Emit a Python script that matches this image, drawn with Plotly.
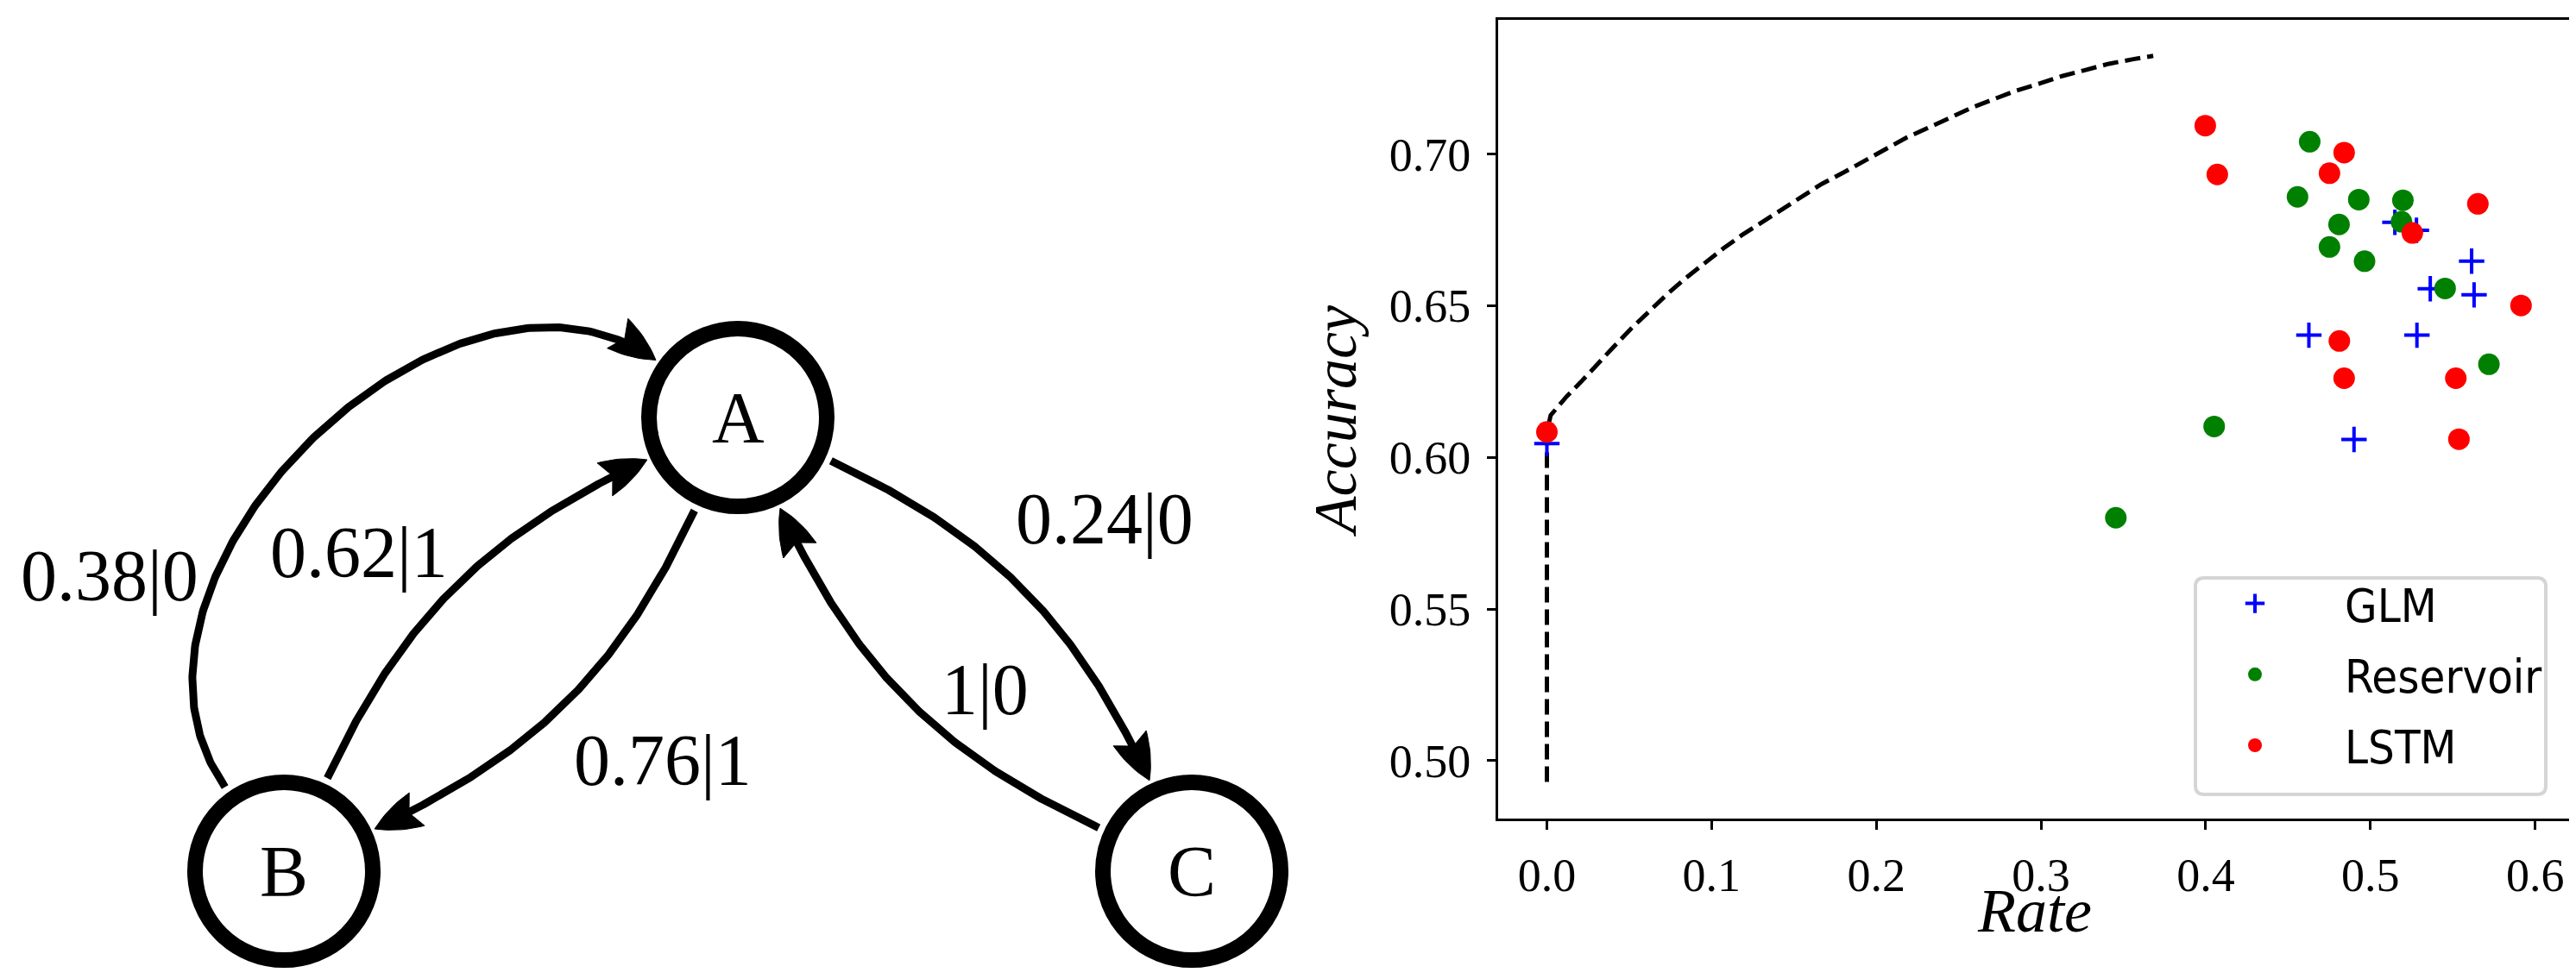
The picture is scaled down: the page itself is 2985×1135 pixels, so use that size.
import numpy as np
import plotly.graph_objects as go

W, H = 2985, 1135

# ---------------- scatter panel data ----------------
glm_rate = [0.0, 0.5148, 0.5279, 0.5614, 0.5363, 0.5629, 0.4626, 0.5282, 0.4900]
glm_acc = [0.6046, 0.6775, 0.6749, 0.6647, 0.6556, 0.6536, 0.6403, 0.6403, 0.6059]

res_rate = [0.4631, 0.4557, 0.4929, 0.5197, 0.4809, 0.5188, 0.4751, 0.4964,
            0.5453, 0.5719, 0.4051, 0.3454]
res_acc = [0.7041, 0.6859, 0.6850, 0.6848, 0.6768, 0.6777, 0.6694, 0.6647,
           0.6557, 0.6307, 0.6102, 0.5801]

lstm_rate = [0.0, 0.3997, 0.4070, 0.4840, 0.4751, 0.5652, 0.5254, 0.5914,
             0.4811, 0.4840, 0.5518, 0.5537]
lstm_acc = [0.6084, 0.7094, 0.6933, 0.7005, 0.6937, 0.6836, 0.6740, 0.6501,
            0.6384, 0.6261, 0.6261, 0.6060]

bound_rate = [0.0, 0.0, 0.0023, 0.0120, 0.0205, 0.0291, 0.0401, 0.0510, 0.0620,
              0.0730, 0.0840, 0.0949, 0.1071, 0.1181, 0.1303, 0.1425, 0.1547,
              0.1669, 0.1803, 0.1925, 0.2059, 0.2181, 0.2315, 0.2449, 0.2583,
              0.2717, 0.2852, 0.2998, 0.3132, 0.3266, 0.3412, 0.3559, 0.3681]
bound_acc = [0.4930, 0.6084, 0.6139, 0.6201, 0.6248, 0.6300, 0.6362, 0.6424,
             0.6481, 0.6538, 0.6590, 0.6637, 0.6689, 0.6732, 0.6774, 0.6817,
             0.6860, 0.6902, 0.6940, 0.6978, 0.7016, 0.7054, 0.7087, 0.7121,
             0.7154, 0.7182, 0.7210, 0.7234, 0.7258, 0.7277, 0.7298, 0.7313,
             0.7324]

x_ticks = [0.0, 0.1, 0.2, 0.3, 0.4, 0.5, 0.6]
x_ticklabels = ["0.0", "0.1", "0.2", "0.3", "0.4", "0.5", "0.6"]
y_ticks = [0.50, 0.55, 0.60, 0.65, 0.70]
y_ticklabels = ["0.50", "0.55", "0.60", "0.65", "0.70"]

# ---------------- state diagram data ----------------
node_names = ["A", "B", "C"]
node_cx = [847, 321, 1373]
node_cy = [476, 1002, 1002]
edge_src = ["B", "B", "A", "A", "C"]
edge_dst = ["A", "A", "B", "C", "A"]
edge_bend = [80, 20, 20, 20, 20]
edge_text = ["0.38|0", "0.62|1", "0.76|1", "0.24|0", "1|0"]
edge_text_x = [119, 408, 760, 1272, 1133]
edge_text_y = [659, 632, 873, 593, 791]

# ---------------- styling constants ----------------
SERIF = "Liberation Serif, Times New Roman, serif"
SANS = "Liberation Sans Narrow, DejaVu Sans Condensed, DejaVu Sans, sans-serif"
NODE_LW = 18
NODE_R = 112 - NODE_LW / 2
EDGE_LW = 9
ANCHOR_OUT = 119
ANCHOR_IN = 116
ARROW_L = 54
ARROW_W = 21
ARROW_NOTCH = 10
edge_looseness = [1.06, 1.0, 1.0, 1.0, 1.0]

fig = go.Figure()

# ---------------- diagram (left) ----------------
idx = {n: i for i, n in enumerate(node_names)}
for s, d, b, lo in zip(edge_src, edge_dst, edge_bend, edge_looseness):
    x1, y1 = node_cx[idx[s]], node_cy[idx[s]]
    x2, y2 = node_cx[idx[d]], node_cy[idx[d]]
    chord = np.degrees(np.arctan2(-(y2 - y1), x2 - x1))
    a_out = np.radians(chord + b)
    a_in = np.radians(chord + 180 - b)
    P0 = np.array([x1 + ANCHOR_OUT * np.cos(a_out), y1 - ANCHOR_OUT * np.sin(a_out)])
    P3 = np.array([x2 + ANCHOR_IN * np.cos(a_in), y2 - ANCHOR_IN * np.sin(a_in)])
    c = lo * 0.3915 * np.linalg.norm(P3 - P0)
    P1 = P0 + c * np.array([np.cos(a_out), -np.sin(a_out)])
    P2 = P3 + c * np.array([np.cos(a_in), -np.sin(a_in)])
    t = np.linspace(0, 1, 300)[:, None]
    pts = ((1 - t) ** 3) * P0 + 3 * ((1 - t) ** 2) * t * P1 + 3 * (1 - t) * (t ** 2) * P2 + (t ** 3) * P3
    keep = np.linalg.norm(pts - P3, axis=1) > (ARROW_L - ARROW_NOTCH - 3)
    pl = pts[keep]
    fig.add_trace(go.Scatter(x=pl[:, 0], y=pl[:, 1], mode="lines",
                             line=dict(color="black", width=EDGE_LW),
                             xaxis="x2", yaxis="y2", showlegend=False, hoverinfo="skip"))
    u = (P3 - P2) / np.linalg.norm(P3 - P2)
    n = np.array([-u[1], u[0]])
    base = P3 - ARROW_L * u
    cl = base + ARROW_W * n
    cr = base - ARROW_W * n
    notch = P3 - (ARROW_L - ARROW_NOTCH) * u
    ss = np.linspace(0, 1, 12)[:, None]
    ctl_l = P3 - 0.45 * ARROW_L * u + 0.75 * ARROW_W * n
    ctl_r = P3 - 0.45 * ARROW_L * u - 0.75 * ARROW_W * n
    side_l = ((1 - ss) ** 2) * P3 + 2 * (1 - ss) * ss * ctl_l + (ss ** 2) * cl
    sr = ss[::-1]
    side_r = ((1 - sr) ** 2) * P3 + 2 * (1 - sr) * sr * ctl_r + (sr ** 2) * cr
    poly = np.vstack([side_l, notch[None, :], side_r])
    fig.add_trace(go.Scatter(x=poly[:, 0], y=poly[:, 1], mode="lines", fill="toself",
                             fillcolor="black", line=dict(color="black", width=1),
                             xaxis="x2", yaxis="y2", showlegend=False, hoverinfo="skip"))

shapes = []
for nm, cx, cy in zip(node_names, node_cx, node_cy):
    shapes.append(dict(type="circle", xref="x2", yref="y2",
                       x0=cx - NODE_R, x1=cx + NODE_R, y0=cy - NODE_R, y1=cy + NODE_R,
                       line=dict(color="black", width=NODE_LW), fillcolor="white", layer="above"))

annotations = []
for nm, cx, cy in zip(node_names, node_cx, node_cy):
    annotations.append(dict(x=cx, y=cy, xref="x2", yref="y2", text=nm, showarrow=False,
                            font=dict(family=SERIF, size=84, color="black"),
                            xanchor="center", yanchor="middle"))
for txt, tx, ty in zip(edge_text, edge_text_x, edge_text_y):
    annotations.append(dict(x=tx, y=ty, xref="x2", yref="y2", text=txt, showarrow=False,
                            font=dict(family=SERIF, size=84, color="black"),
                            xanchor="center", yanchor="middle"))

# x-axis title of the scatter panel
annotations.append(dict(x=(1728 + 2970) / 2 / W, y=1 - 1048 / H, xref="paper", yref="paper",
                        text="<i>Rate</i>", showarrow=False, xanchor="center", yanchor="middle",
                        font=dict(family=SERIF, size=72, color="black")))

# ---------------- scatter (right) ----------------
fig.add_trace(go.Scatter(x=bound_rate, y=bound_acc, mode="lines",
                         line=dict(color="black", width=5, dash="18px,8px"),
                         showlegend=False, hoverinfo="skip", xaxis="x", yaxis="y"))
fig.add_trace(go.Scatter(x=glm_rate, y=glm_acc, mode="markers", name="GLM",
                         legendgroup="g1",
                         marker=dict(symbol="cross-thin", size=21, color="blue",
                                     line=dict(color="blue", width=4)),
                         xaxis="x", yaxis="y"))
fig.add_trace(go.Scatter(x=res_rate, y=res_acc, mode="markers", name="Reservoir",
                         legendgroup="g2",
                         marker=dict(symbol="circle", size=25, color="green", line=dict(width=0)),
                         xaxis="x", yaxis="y"))
fig.add_trace(go.Scatter(x=lstm_rate, y=lstm_acc, mode="markers", name="LSTM",
                         legendgroup="g3",
                         marker=dict(symbol="circle", size=25, color="red", line=dict(width=0)),
                         xaxis="x", yaxis="y"))

# rounded legend frame (drawn in paper coords)
lx0, lx1, ly0, ly1, rr = 2536 / W, 2942 / W, 1 - 913 / H, 1 - 662 / H, 10
rx, ry = rr / W, rr / H
path = (f"M {lx0 + rx},{ly0} L {lx1 - rx},{ly0} Q {lx1},{ly0} {lx1},{ly0 + ry} "
        f"L {lx1},{ly1 - ry} Q {lx1},{ly1} {lx1 - rx},{ly1} L {lx0 + rx},{ly1} "
        f"Q {lx0},{ly1} {lx0},{ly1 - ry} L {lx0},{ly0 + ry} Q {lx0},{ly0} {lx0 + rx},{ly0} Z")
shapes.append(dict(type="path", xref="paper", yref="paper", path=path,
                   line=dict(color="#d5d5d5", width=4), fillcolor="rgba(255,255,255,0.8)",
                   layer="below"))

axis_common = dict(showline=True, mirror=True, linecolor="black", linewidth=3,
                   ticks="outside", ticklen=10, tickwidth=3, tickcolor="black",
                   showgrid=False, zeroline=False,
                   tickfont=dict(family=SERIF, size=54, color="black"))

fig.update_layout(
    width=W, height=H,
    margin=dict(l=0, r=0, t=0, b=0),
    paper_bgcolor="white", plot_bgcolor="white",
    shapes=shapes, annotations=annotations,
    xaxis=dict(domain=[1728 / W, 2970 / W], range=[-0.0296, 0.6211], anchor="y",
               tickvals=x_ticks, ticktext=x_ticklabels, ticklabelstandoff=6,
               **axis_common),
    yaxis=dict(domain=[1 - 940.7 / H, 1 - 15.3 / H], range=[0.4810, 0.7442], anchor="x",
               tickvals=y_ticks, ticktext=y_ticklabels, ticklabelstandoff=8,
               title=dict(text="<i>Accuracy</i>", font=dict(family=SERIF, size=70, color="black"),
                          standoff=16),
               **axis_common),
    xaxis2=dict(domain=[0, 1500 / W], range=[0, 1500], anchor="y2", visible=False),
    yaxis2=dict(domain=[0, 1], range=[H, 0], anchor="x2", visible=False),
    legend=dict(x=2501 / W, y=1 - 650 / H, xanchor="left", yanchor="top",
                bgcolor="rgba(0,0,0,0)", borderwidth=0, itemwidth=198,
                tracegroupgap=9,
                font=dict(family=SANS, size=54, color="black")),
    showlegend=True,
)

fig.write_html("out.html")
